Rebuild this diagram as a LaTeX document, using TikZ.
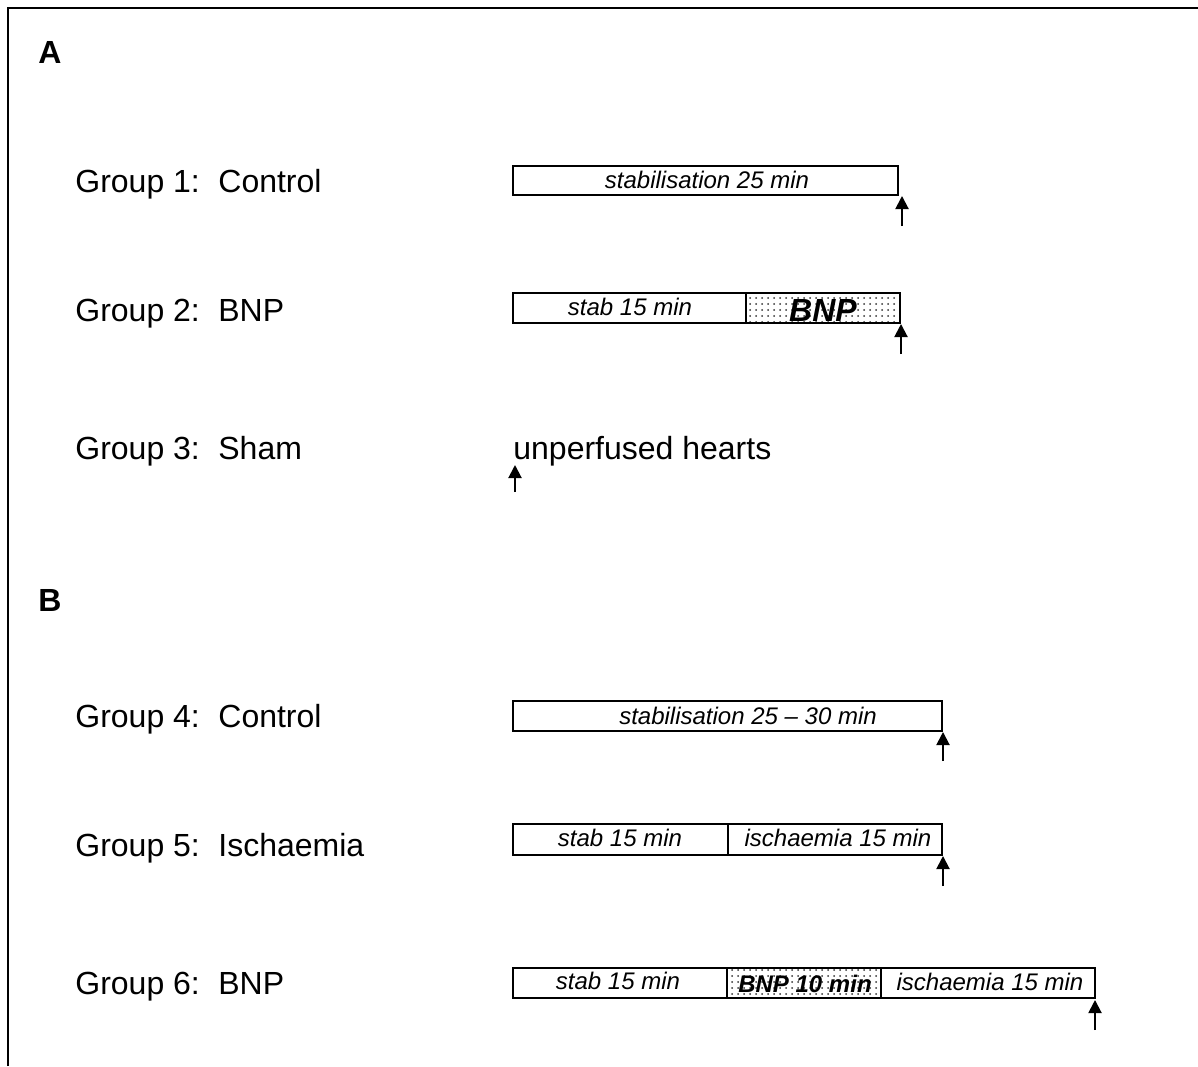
\documentclass[tikz,border=0pt]{standalone}
\usepackage{fontspec}
\setmainfont{Liberation Sans}
\usepackage{tikz}
\usetikzlibrary{arrows.meta,patterns}

\pgfdeclarepatternformonly{sparsedots}{\pgfqpoint{-0.6pt}{-0.6pt}}{\pgfqpoint{0.6pt}{0.6pt}}{\pgfqpoint{3pt}{3pt}}%
{\pgfpathcircle{\pgfqpoint{0pt}{0pt}}{0.5pt}\pgfusepath{fill}}

\tikzset{
  bar/.style={draw,line width=1pt},
  dotbar/.style={bar,pattern=sparsedots,pattern color=black!80},
  grp/.style={anchor=base west,inner sep=0pt,font=\fontsize{16}{19}\selectfont},
  seglbl/.style={anchor=base,inner sep=0pt,font=\fontsize{12}{14}\selectfont\itshape},
  endarrow/.style={line width=1pt,-{Triangle[length=6.5pt,width=6.5pt]}}
}

\begin{document}
\begin{tikzpicture}[x=0.5pt,y=-0.5pt]
\useasboundingbox (0,0) rectangle (1198,1066);
% frame
\draw[line width=1.3pt] (8,1066) -- (8,8) -- (1198,8);
\node[inner sep=0pt,font=\fontsize{16}{19}\selectfont\bfseries] (pa) at (50,52) {A};
\node[inner sep=0pt,font=\fontsize{16}{19}\selectfont\bfseries] (pb) at (50,600) {B};

% group labels
\foreach \n/\name/\y in {1/Control/192,2/BNP/321,3/Sham/459,4/Control/727,5/Ischaemia/856,6/BNP/994}{
\node[grp] (g\n) at (75,\y) {Group \n:};
\node[grp] (h\n) at (218,\y) {\name};
}

% group 1
\draw[bar] (513,166) rectangle (898,195);
\node[seglbl] (s1) at (707,188) {stabilisation 25 min};
\coordinate (a1) at (902,226);
\coordinate (b1) at (902,196);
\draw[endarrow] (a1) -- (b1);

% group 2
\draw[dotbar] (746,293) rectangle (900,323);
\draw[bar] (513,293) rectangle (746,323);
\node[seglbl] (s2) at (630,315) {stab 15 min};
\node[seglbl,font=\fontsize{16}{19}\selectfont\bfseries\itshape] (n2) at (823,321) {BNP};
\coordinate (a2) at (901,354);
\coordinate (b2) at (901,324);
\draw[endarrow] (a2) -- (b2);

% group 3
\node[grp] (u3) at (513,459) {unperfused hearts};
\coordinate (a3) at (515,492);
\coordinate (b3) at (515,465);
\draw[endarrow] (a3) -- (b3);

% group 4
\draw[bar] (513,701) rectangle (942,731);
\node[seglbl] (s4) at (748,724) {stabilisation 25 -- 30 min};
\coordinate (a4) at (943,761);
\coordinate (b4) at (943,732);
\draw[endarrow] (a4) -- (b4);

% group 5
\draw[bar] (513,824) rectangle (728,855);
\draw[bar] (728,824) rectangle (942,855);
\node[seglbl] (s5) at (620,846) {stab 15 min};
\node[seglbl] (i5) at (838,846) {ischaemia 15 min};
\coordinate (a5) at (943,886);
\coordinate (b5) at (943,856);
\draw[endarrow] (a5) -- (b5);

% group 6
\draw[bar] (513,968) rectangle (727,998);
\draw[dotbar] (727,968) rectangle (881,998);
\draw[bar] (881,968) rectangle (1095,998);
\node[seglbl] (s6) at (618,989) {stab 15 min};
\node[seglbl,font=\fontsize{12}{14}\selectfont\bfseries\itshape] (n6) at (805,992) {BNP 10 min};
\node[seglbl] (i6) at (990,990) {ischaemia 15 min};
\coordinate (a6) at (1095,1030);
\coordinate (b6) at (1095,1000);
\draw[endarrow] (a6) -- (b6);
\end{tikzpicture}
\end{document}
